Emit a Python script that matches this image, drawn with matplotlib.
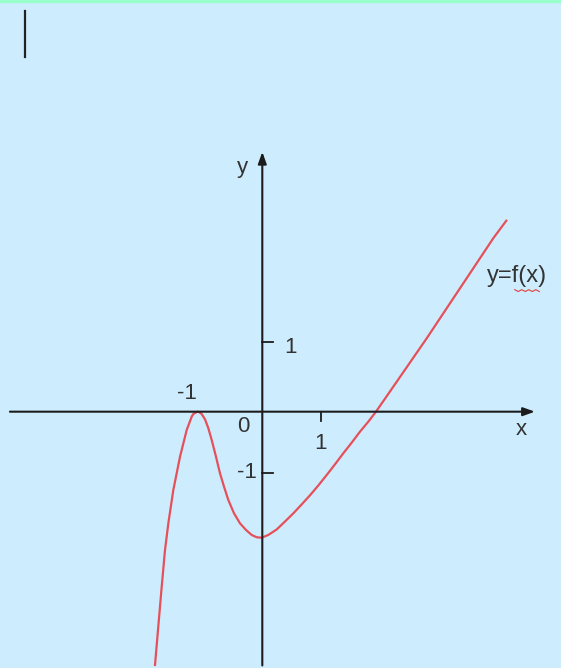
import matplotlib
matplotlib.use('Agg')
import matplotlib.pyplot as plt
from matplotlib.lines import Line2D

plt.rcParams['font.family'] = ['Liberation Sans', 'DejaVu Sans']

# curve points (math units)
curve_x = [-1.828, -1.714, -1.658, -1.601, -1.516, -1.402, -1.288, -1.203, -1.175,
           -1.107, -1.073, -1.032, -0.976, -0.920, -0.862, -0.789, -0.721, -0.652,
           -0.579, -0.482, -0.380, -0.278, -0.181, -0.095, -0.010, 0.102, 0.245,
           0.387, 0.530, 0.671, 0.813, 0.954, 1.097, 1.239, 1.380, 1.523, 1.664, 1.806,
           1.937, 2.232, 2.801, 3.368, 3.935, 4.157]
curve_y = [-4.152, -2.869, -2.270, -1.830, -1.284, -0.738, -0.300, -0.082, -0.038,
           0.0, -0.008, -0.040, -0.125, -0.270, -0.464, -0.738, -1.010, -1.230,
           -1.448, -1.666, -1.830, -1.939, -2.021, -2.059, -2.066, -2.021, -1.931,
           -1.800, -1.665, -1.520, -1.370, -1.210, -1.038, -0.862, -0.682, -0.508, -0.328, -0.164,
           0.0, 0.410, 1.203, 2.023, 2.843, 3.131]

xticks = [1]
xtick_labels = ['1']
yticks = [1.14, -1.0]
ytick_labels = ['1', '-1']

bg = '#CDEDFE'
fig = plt.figure(figsize=(5.61, 6.68), dpi=100, facecolor=bg)
ax = fig.add_axes([0, 0, 1, 1])
ax.set_facecolor(bg)
ax.set_xlim(-4.469, 5.089)
ax.set_ylim(-4.202, 6.749)
ax.axis('off')

axis_col = '#1c1c1c'
txt_col = '#333333'

# axes with arrows
ax.annotate('', xy=(4.645, 0), xytext=(-4.30, 0),
            arrowprops=dict(arrowstyle='-|>,head_length=0.7,head_width=0.25',
                            color=axis_col, lw=1.5, shrinkA=0, shrinkB=0))
ax.annotate('', xy=(0, 4.26), xytext=(0, -4.16),
            arrowprops=dict(arrowstyle='-|>,head_length=0.7,head_width=0.25',
                            color=axis_col, lw=1.5, shrinkA=0, shrinkB=0))

# ticks
for t in xticks:
    ax.plot([t, t], [0, -0.16], color=axis_col, lw=1.3)
for t in yticks:
    ax.plot([0, 0.18], [t, t], color=axis_col, lw=1.3)

# curve
ax.plot(curve_x, curve_y, color='#E5505A', lw=1.6, solid_joinstyle='round')

fs = 16
ax.text(1.0, -0.52, xtick_labels[0], fontsize=fs, color=txt_col, ha='center', va='center')
ax.text(0.48, 1.05, ytick_labels[0], fontsize=fs, color=txt_col, ha='center', va='center')
ax.text(-0.26, -1.0, ytick_labels[1], fontsize=fs, color=txt_col, ha='center', va='center')
ax.text(-0.33, -0.25, '0', fontsize=fs, color=txt_col, ha='center', va='center')
ax.text(-1.29, 0.30, '-1', fontsize=fs, color=txt_col, ha='center', va='center')
ax.text(-0.33, 4.0, 'y', fontsize=fs, color=txt_col, ha='center', va='center')
ax.text(4.41, -0.30, 'x', fontsize=fs, color=txt_col, ha='center', va='center')
ax.text(3.83, 2.22, 'y=f(x)', fontsize=fs + 1, color=txt_col, ha='left', va='center')
# spell-check squiggle under f(x)
ax.plot([4.30, 4.36, 4.42, 4.48, 4.54, 4.60, 4.66, 4.72], [2.00, 1.97, 2.00, 1.97, 2.00, 1.97, 2.00, 1.97],
        color='#E04040', lw=0.8)

# decorations: top border and cursor bar
fig.add_artist(Line2D([0, 1], [0.998, 0.998], color='#99FFCC', lw=2.5, transform=fig.transFigure))
fig.add_artist(Line2D([24.5 / 561, 24.5 / 561], [1 - 11 / 668, 1 - 57 / 668],
                      color='#222222', lw=1.6, transform=fig.transFigure))

fig.savefig('out.png', dpi=100, facecolor=bg)
